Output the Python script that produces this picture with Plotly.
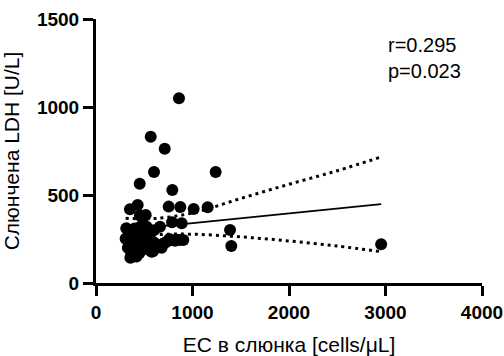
import plotly.graph_objects as go

# Epithelial cells in saliva vs salivary LDH
ec_cells = [860, 567, 712, 601, 1240, 453, 791, 753, 874, 1012, 1157, 352, 432,
            515, 455, 480, 788, 888, 663, 314, 1389, 1402, 2955,
            307, 356, 905, 785, 840, 750, 700, 660, 620, 590, 560, 520, 480, 440,
            410, 380, 350, 330, 360, 390, 420, 450, 480, 510, 540, 570, 600, 520,
            470, 430, 400, 440, 380, 420, 500, 550, 600, 640, 680, 720, 760, 820,
            870, 360, 340, 460, 525, 387, 577, 629, 317]
ldh = [1050, 831, 763, 631, 631, 564, 528, 434, 432, 420, 430, 419, 443,
       386, 384, 370, 345, 339, 320, 311, 301, 210, 220,
       252, 144, 244, 244, 246, 240, 225, 210, 200, 180, 185, 205, 220, 240,
       260, 280, 230, 200, 180, 165, 150, 170, 190, 230, 260, 290, 300, 310,
       300, 290, 310, 200, 220, 275, 270, 240, 230, 215, 200, 230, 250, 240,
       245, 270, 300, 320, 320, 150, 178, 206, 254]

# Linear fit and 95% confidence band
fit_x = [307, 2955]
fit_y = [302, 448]
band_x = [307, 600, 1000, 1500, 2000, 2500, 2955]
band_upper = [368, 366, 398, 480, 561, 638, 716]
band_lower = [238, 272, 277, 262, 239, 210, 178]

x_ticks = [0, 1000, 2000, 3000, 4000]
y_ticks = [0, 500, 1000, 1500]

stats_text = "r=0.295<br>p=0.023"

fig = go.Figure()
dot_line = dict(color="black", width=3, dash="3px,4px", shape="spline")
fig.add_trace(go.Scatter(x=band_x, y=band_upper, mode="lines", line=dot_line,
                         hoverinfo="skip"))
fig.add_trace(go.Scatter(x=band_x, y=band_lower, mode="lines", line=dot_line,
                         hoverinfo="skip"))
fig.add_trace(go.Scatter(x=fit_x, y=fit_y, mode="lines",
                         line=dict(color="black", width=1.6)))
fig.add_trace(go.Scatter(x=ec_cells, y=ldh, mode="markers",
                         marker=dict(color="black", size=12, line=dict(width=0))))

font_family = "Liberation Sans, Arial, sans-serif"
axis_common = dict(showgrid=False, zeroline=False, showline=True,
                   linecolor="black", linewidth=3, ticks="outside", ticklen=10,
                   tickwidth=3, tickcolor="black", automargin=False,
                   tickfont=dict(size=19, family=font_family, color="black"))
fig.update_layout(
    width=504, height=356,
    margin=dict(l=96, r=22, t=19, b=73),
    paper_bgcolor="white", plot_bgcolor="white",
    showlegend=False,
    font=dict(family=font_family, color="black"),
    xaxis=dict(range=[0, 4000], tickvals=x_ticks,
               ticktext=[f"<b>{v}</b>" for v in x_ticks],
               title=dict(text="EC в слюнка [cells/μL]", font=dict(size=21),
                          standoff=20),
               **axis_common),
    yaxis=dict(range=[0, 1500], tickvals=y_ticks,
               ticktext=[f"<b>{v}</b>" for v in y_ticks],
               title=dict(text="Слюнчена LDH [U/L]", font=dict(size=21),
                          standoff=12),
               **axis_common),
    annotations=[dict(text=stats_text, xref="paper", yref="paper",
                      x=(386 - 96) / 386, y=1 - (32 - 19) / 264,
                      xanchor="left", yanchor="top", align="left",
                      showarrow=False, font=dict(size=20))],
)

fig.write_html("out.html")
